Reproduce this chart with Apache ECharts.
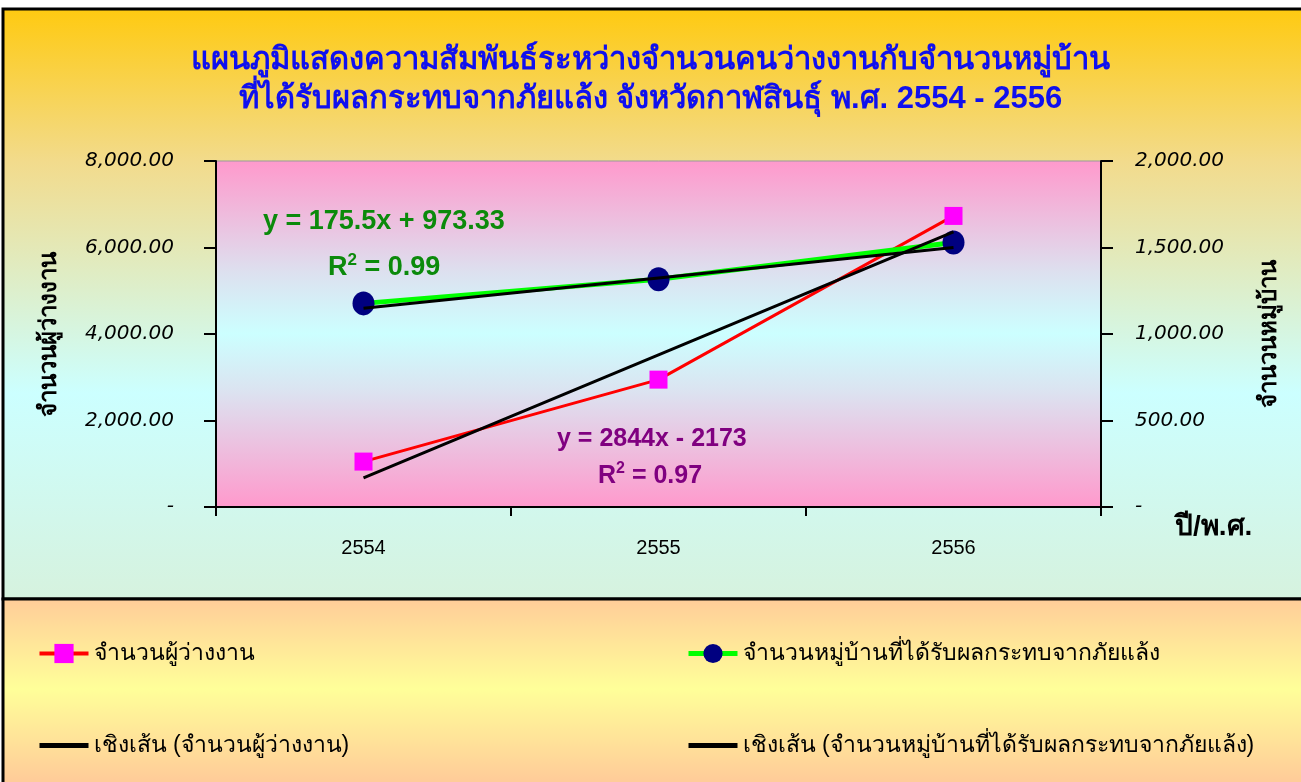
<!DOCTYPE html>
<html><head><meta charset="utf-8">
<script src="https://cdn.jsdelivr.net/npm/echarts@6/dist/echarts.min.js"></script>
<style>html,body{margin:0;padding:0;background:#fff;}#c{width:1301px;height:782px;}</style>
</head><body><div id="c"></div>
<script>
const years = ['2554', '2555', '2556'];
const unemployed = [1050, 2945, 6730];
const villages = [1177, 1316, 1529];
const trendUnemployed = [671, 3515, 6359];
const trendVillages = [1149, 1324, 1500];
const leftTicks = [0, 2000, 4000, 6000, 8000];
const rightTicks = [0, 500, 1000, 1500, 2000];
const nameUnemp = 'จำนวนผู้ว่างงาน';
const nameVill = 'จำนวนหมู่บ้านที่ได้รับผลกระทบจากภัยแล้ง';
const nameTrendUnemp = 'เชิงเส้น (จำนวนผู้ว่างงาน)';
const nameTrendVill = 'เชิงเส้น (จำนวนหมู่บ้านที่ได้รับผลกระทบจากภัยแล้ง)';

const chart = echarts.init(document.getElementById('c'));
const fmt = v => v === 0 ? '-' : v.toLocaleString('en-US', {minimumFractionDigits: 2, maximumFractionDigits: 2});
const grad = (stops) => new echarts.graphic.LinearGradient(0, 0, 0, 1, stops);
const axisLabelStyle = {fontFamily: 'DejaVu Sans', fontStyle: 'italic', fontSize: 20, color: '#000', padding: [10, 0, 0, 0]};
const green = '#0B8A0B', purple = '#800080';
const rich = (c, big, small) => ({a: {fontSize: big, fontWeight: 'bold', fontFamily: 'Liberation Sans', fill: c, color: c, verticalAlign: 'bottom'},
  s: {fontSize: small, fontWeight: 'bold', fontFamily: 'Liberation Sans', fill: c, color: c, verticalAlign: 'top', padding: [0, 0, 12, 0]}});
const legendText = {fontSize: 23, color: '#000', fontFamily: 'sans-serif'};

chart.setOption({
  animation: false,
  title: {
    text: 'แผนภูมิแสดงความสัมพันธ์ระหว่างจำนวนคนว่างงานกับจำนวนหมู่บ้าน\nที่ได้รับผลกระทบจากภัยแล้ง จังหวัดกาฬสินธุ์ พ.ศ. 2554 - 2556',
    left: 'center', top: 36,
    textStyle: {color: '#1010EE', fontSize: 31, fontWeight: 'bold', lineHeight: 39, fontFamily: 'sans-serif', align: 'center'}
  },
  graphic: [
    {type: 'rect', z: -10, silent: true, shape: {x: 3, y: 9, width: 1310, height: 590},
     style: {fill: grad([{offset: 0, color: '#FFCA10'}, {offset: 0.26, color: '#F2DB8C'}, {offset: 0.65, color: '#CCFFFF'}, {offset: 1, color: '#D6F2DE'}]), stroke: '#000', lineWidth: 3}},
    {type: 'rect', z: -10, silent: true, shape: {x: 3, y: 599, width: 1310, height: 200},
     style: {fill: grad([{offset: 0, color: '#FFCC99'}, {offset: 0.45, color: '#FFFF99'}, {offset: 0.9, color: '#FFCC99'}]), stroke: '#000', lineWidth: 3}},
    {type: 'text', left: 263, top: 208, z: 10, style: {text: 'y = 175.5x + 973.33', fill: green, font: 'bold 27px "Liberation Sans", Arial'}},
    {type: 'text', left: 328, top: 252, z: 10, style: {text: '{a|R}{s|2}{a| = 0.99}', fill: green, rich: rich(green, 27, 17)}},
    {type: 'text', left: 557, top: 427, z: 10, style: {text: 'y = 2844x - 2173', fill: purple, font: 'bold 25px "Liberation Sans", Arial'}},
    {type: 'text', left: 598, top: 461, z: 10, style: {text: '{a|R}{s|2}{a| = 0.97}', fill: purple, rich: rich(purple, 25, 16)}},
    {type: 'text', left: 1175, top: 513, z: 10, style: {text: 'ปี/พ.ศ.', fill: '#000', font: 'bold 28px sans-serif'}}
  ],
  grid: {left: 216, right: 200, top: 161, bottom: 275, show: true,
    backgroundColor: grad([{offset: 0, color: '#FF99CC'}, {offset: 0.33, color: '#DCE2F0'}, {offset: 0.5, color: '#CCFFFF'}, {offset: 0.67, color: '#DCE2F0'}, {offset: 1, color: '#FF99CC'}]),
    borderColor: '#999', borderWidth: 1},
  legend: [
    {data: [{name: nameUnemp, lineStyle: {width: 4}}, {name: nameTrendUnemp, itemStyle: {opacity: 0}, lineStyle: {width: 5}}],
     orient: 'vertical', left: 32, top: 637, itemGap: 69, itemWidth: 49, itemHeight: 24, textStyle: legendText},
    {data: [{name: nameVill, lineStyle: {width: 5}}, {name: nameTrendVill, itemStyle: {opacity: 0}, lineStyle: {width: 5}}],
     orient: 'vertical', left: 681, top: 637, itemGap: 69, itemWidth: 49, itemHeight: 24, textStyle: legendText}
  ],
  xAxis: {type: 'category', data: years, boundaryGap: true,
    axisLine: {lineStyle: {color: '#000', width: 2}},
    axisTick: {show: true, length: 9, lineStyle: {color: '#000', width: 2}},
    axisLabel: {margin: 31, fontSize: 20, color: '#000', fontFamily: 'Liberation Sans'}},
  yAxis: [
    {type: 'value', min: leftTicks[0], max: leftTicks[leftTicks.length - 1], interval: 2000, position: 'left',
     name: nameUnemp, nameLocation: 'middle', nameGap: 155, nameRotate: 90,
     nameTextStyle: {fontSize: 24, fontWeight: 'bold', color: '#000', fontFamily: 'sans-serif'},
     axisLine: {show: true, lineStyle: {color: '#000', width: 2}},
     axisTick: {show: true, length: 12, lineStyle: {color: '#000', width: 2}},
     splitLine: {show: false},
     axisLabel: Object.assign({margin: 42, formatter: fmt}, axisLabelStyle)},
    {type: 'value', min: rightTicks[0], max: rightTicks[rightTicks.length - 1], interval: 500, position: 'right',
     name: 'จำนวนหมู่บ้าน', nameLocation: 'middle', nameGap: 156, nameRotate: 90,
     nameTextStyle: {fontSize: 24, fontWeight: 'bold', color: '#000', fontFamily: 'sans-serif'},
     axisLine: {show: true, lineStyle: {color: '#000', width: 2}},
     axisTick: {show: true, length: 12, lineStyle: {color: '#000', width: 2}},
     splitLine: {show: false},
     axisLabel: Object.assign({margin: 34, formatter: fmt}, axisLabelStyle)}
  ],
  series: [
    {name: nameUnemp, type: 'line', yAxisIndex: 0, data: unemployed, z: 3,
     lineStyle: {color: '#FF0000', width: 3}, itemStyle: {color: '#FF00FF'},
     symbol: 'rect', symbolSize: 18, showAllSymbol: true},
    {name: nameVill, type: 'line', yAxisIndex: 1, data: villages, z: 3,
     lineStyle: {color: '#00FF00', width: 5}, itemStyle: {color: '#000080'},
     symbol: 'circle', symbolSize: [22, 24], showAllSymbol: true},
    {name: nameTrendUnemp, type: 'line', yAxisIndex: 0, data: trendUnemployed, z: 5,
     lineStyle: {color: '#000', width: 3}, itemStyle: {color: '#000'}, symbol: 'none'},
    {name: nameTrendVill, type: 'line', yAxisIndex: 1, data: trendVillages, z: 5,
     lineStyle: {color: '#000', width: 3}, itemStyle: {color: '#000'}, symbol: 'none'}
  ]
});
</script></body></html>
